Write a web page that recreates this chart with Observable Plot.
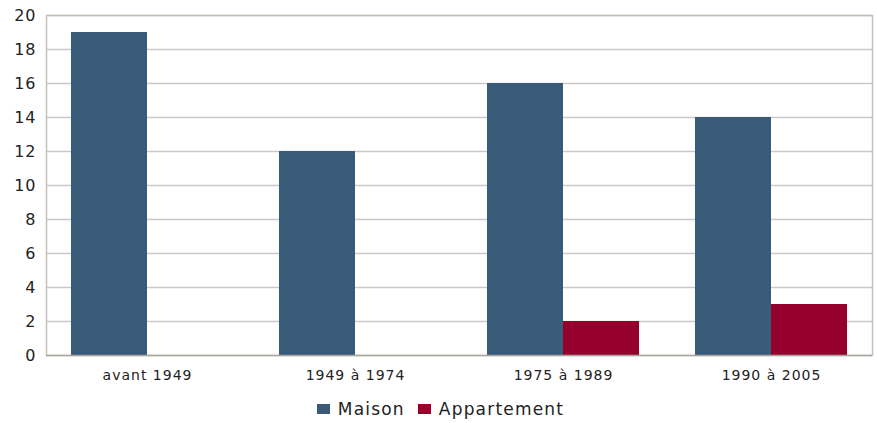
<!DOCTYPE html>
<html>
<head>
<meta charset="utf-8">
<script src="https://cdn.jsdelivr.net/npm/d3@7"></script>
<script src="https://cdn.jsdelivr.net/npm/@observablehq/plot@0.6"></script>
<style>
  html, body { margin: 0; padding: 0; background: #fff; }
  body { width: 877px; height: 423px; font-family: "DejaVu Sans", Verdana, sans-serif; }
  #legend { display: flex; justify-content: center; align-items: center; gap: 13px; font-size: 17px; line-height: 20px; letter-spacing: 1.2px; color: #222; margin-top: 7px; padding-left: 4px; }
  #legend .item { display: flex; align-items: center; gap: 8px; }
  #legend .sw { width: 13px; height: 10px; display: inline-block; }
  svg text { letter-spacing: 1px; }
</style>
</head>
<body>
<div id="chart"></div>
<script>
const categories = ["avant 1949", "1949 à 1974", "1975 à 1989", "1990 à 2005"];
const series = ["Maison", "Appartement"];
const maison = [19, 12, 16, 14];
const appartement = [0, 0, 2, 3];
const yTicks = [0, 2, 4, 6, 8, 10, 12, 14, 16, 18, 20];
const colors = ["#3a5a7a", "#96002d"];

const rowsM = categories.map((c, i) => ({category: c, series: series[0], value: maison[i]}));
const rowsA = categories.map((c, i) => ({category: c, series: series[1], value: appartement[i]}));

const chart = Plot.plot({
  width: 877,
  height: 392,
  marginLeft: 46,
  marginRight: 5,
  marginTop: 15,
  marginBottom: 37,
  style: {fontFamily: "'DejaVu Sans', Verdana, sans-serif", fontSize: "14px", color: "#222", background: "#fff"},
  x: {domain: categories, paddingInner: 0.27, paddingOuter: 0.115, label: null},
  y: {domain: [0, 20], ticks: yTicks, label: null},
  marks: [
    Plot.ruleY(yTicks.filter(d => d > 0), {stroke: "#c9c9c1", strokeWidth: 1.5}),
    Plot.frame({stroke: "#c2c2ba", strokeWidth: 1.5}),
    Plot.barY(rowsM, {x: "category", y: "value", fill: colors[0], insetRight: 76, insetLeft: 0}),
    Plot.barY(rowsA, {x: "category", y: "value", fill: colors[1], insetLeft: 76, insetRight: 0}),
    Plot.ruleY([0], {stroke: "#a8a8a0", strokeWidth: 1.5}),
    Plot.axisY({ticks: yTicks, tickSize: 0, tickPadding: 10, fontSize: 16, label: null}),
    Plot.axisX({tickSize: 0, tickPadding: 15, fontSize: 14, label: null})
  ]
});
document.getElementById("chart").appendChild(chart);

const legend = document.createElement("div");
legend.id = "legend";
series.forEach((s, i) => {
  const item = document.createElement("span");
  item.className = "item";
  const sw = document.createElement("span");
  sw.className = "sw";
  sw.style.background = colors[i];
  const t = document.createElement("span");
  t.textContent = s;
  item.appendChild(sw);
  item.appendChild(t);
  legend.appendChild(item);
});
document.body.appendChild(legend);
</script>
</body>
</html>
